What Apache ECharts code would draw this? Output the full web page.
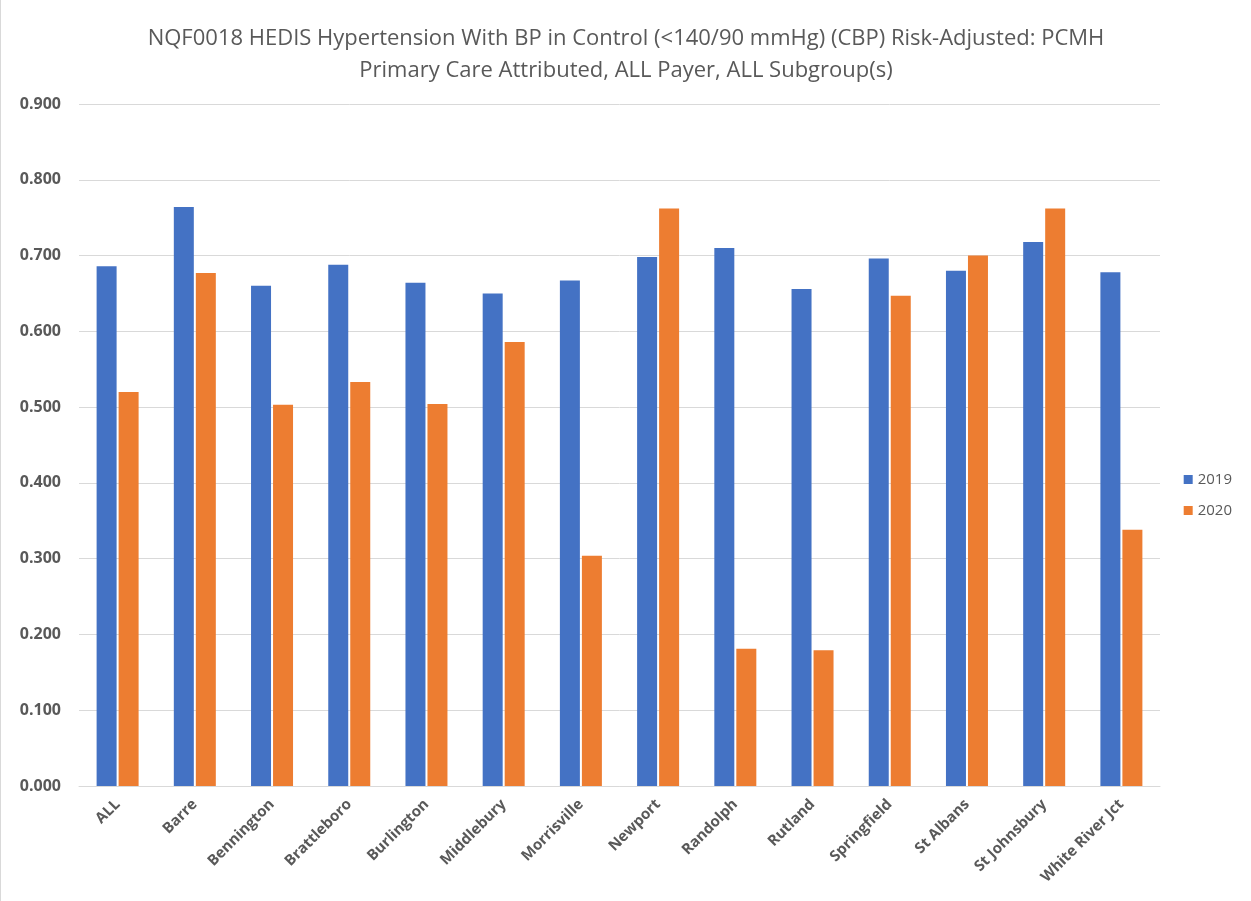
<!DOCTYPE html>
<html><head><meta charset="utf-8">
<script src="https://cdn.jsdelivr.net/npm/echarts@6/dist/echarts.min.js"></script>
<style>html,body{margin:0;padding:0;background:#fff}#c{width:1251px;height:901px;box-sizing:border-box;border-left:1px solid #d9d9d9}</style>
</head><body><div id="c"></div>
<script>
const categories = ['ALL','Barre','Bennington','Brattleboro','Burlington','Middlebury','Morrisville','Newport','Randolph','Rutland','Springfield','St Albans','St Johnsbury','White River Jct'];
const values2019 = [0.686,0.764,0.660,0.688,0.664,0.650,0.667,0.698,0.710,0.656,0.696,0.680,0.718,0.678];
const values2020 = [0.520,0.677,0.503,0.533,0.504,0.586,0.304,0.762,0.181,0.179,0.647,0.700,0.762,0.338];
const seriesNames = ['2019','2020'];
const chart = echarts.init(document.getElementById('c'));
chart.setOption({
  animation:false,
  title:{text:'NQF0018 HEDIS Hypertension With BP in Control (<140/90 mmHg) (CBP) Risk-Adjusted: PCMH\nPrimary Care Attributed, ALL Payer, ALL Subgroup(s)',
    left:'center', top:18, textStyle:{fontFamily:'Open Sans',fontWeight:'normal',fontSize:22,color:'#595959',lineHeight:32}},
  legend:{orient:'vertical', right:14, top:467, itemWidth:9, itemHeight:9, itemGap:16,
    textStyle:{fontFamily:'Open Sans',fontSize:15,color:'#595959'}, icon:'rect', data:seriesNames},
  grid:{left:78, right:91, top:104, bottom:115, containLabel:false},
  xAxis:{type:'category', data:categories,
    axisLine:{lineStyle:{color:'#d9d9d9'}}, axisTick:{show:false},
    axisLabel:{rotate:45, interval:0, fontFamily:'Open Sans', fontWeight:'bold', fontSize:15, color:'#595959', margin:16}},
  yAxis:{type:'value', min:0, max:0.9, interval:0.1,
    axisLabel:{formatter:v=>v.toFixed(3), fontFamily:'Open Sans', fontWeight:'bold', fontSize:16, color:'#595959', margin:18},
    splitLine:{lineStyle:{color:'#d9d9d9'}}, axisLine:{show:false}, axisTick:{show:false}},
  series:[
    {name:seriesNames[0], type:'bar', data:values2019, barWidth:20, barGap:'10%', itemStyle:{color:'#4472c4'}},
    {name:seriesNames[1], type:'bar', data:values2020, barWidth:20, barGap:'10%', itemStyle:{color:'#ed7d31'}}
  ]
});
</script></body></html>
